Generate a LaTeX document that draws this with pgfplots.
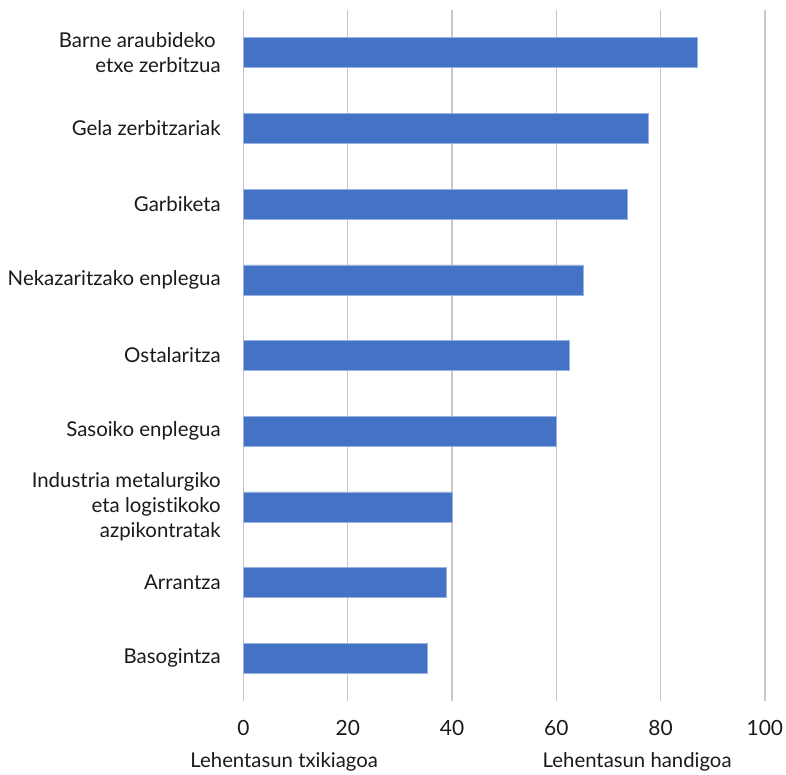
\documentclass[border=0pt]{standalone}
\usepackage{fontspec}
\setmainfont{Lato}[Ligatures={NoCommon}]
\usepackage{pgfplots}
\pgfplotsset{compat=1.18}
\definecolor{barblue}{HTML}{4472C4}
\definecolor{gridgray}{HTML}{C8C8C8}
\definecolor{txt}{HTML}{1A1A1A}
\begin{document}
\begin{tikzpicture}
\begin{axis}[
  name=ax,
  scale only axis, width=521.4bp, height=691bp,
  xbar, bar width=30bp,
  xmin=0, xmax=100, ymin=-0.565, ymax=8.565,
  xtick={0,20,40,60,80,100}, ytick={0,1,2,3,4,5,6,7,8},
  yticklabels={Basogintza, Arrantza, {Industria metalurgiko\\eta logistikoko\hspace*{5bp}\\azpikontratak}, Sasoiko enplegua, Ostalaritza, Nekazaritzako enplegua, Garbiketa, Gela zerbitzariak, {Barne araubideko\hspace*{5bp}\\etxe zerbitzua}},
  yticklabel style={align=right, font=\fontsize{20.5}{25}\selectfont, text=txt, xshift=-15bp},
  xticklabel style={font=\fontsize{21}{24}\selectfont, text=txt, yshift=-16bp},
  /pgf/number format/assume math mode=true,
  axis line style={draw=none},
  major tick style={draw=none},
  xmajorgrids, grid style={gridgray, line width=1.3bp},
  clip=false,
]
\addplot[fill=barblue, draw=barblue!55!white, line width=0.6bp] coordinates {(35.3,0) (38.8,1) (40.0,2) (59.9,3) (62.4,4) (65.2,5) (73.6,6) (77.6,7) (87.0,8)};
\node[anchor=base, font=\fontsize{20.4}{24}\selectfont, text=txt, yshift=-66bp] at (axis cs:7.8,-0.565) {Lehentasun txikiagoa};
\node[anchor=base, font=\fontsize{20.4}{24}\selectfont, text=txt, yshift=-66bp] at (axis cs:75.5,-0.565) {Lehentasun handigoa};
\end{axis}
\pgfresetboundingbox
\path ([shift={(-243.5bp,-73bp)}]ax.south west) rectangle ([shift={(21.1bp,10bp)}]ax.north east);
\end{tikzpicture}
\end{document}
